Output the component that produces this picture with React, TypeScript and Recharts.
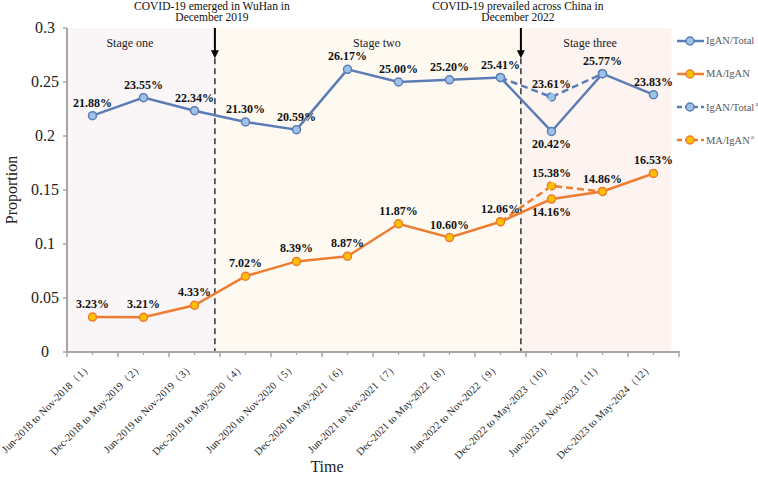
import React from "react";
import {
  LineChart, Line, XAxis, YAxis, ReferenceArea, ReferenceLine,
} from "recharts";

const periods = [
  "Jun-2018 to Nov-2018（1）",
  "Dec-2018 to May-2019（2）",
  "Jun-2019 to Nov-2019（3）",
  "Dec-2019 to May-2020（4）",
  "Jun-2020 to Nov-2020（5）",
  "Dec-2020 to May-2021（6）",
  "Jun-2021 to Nov-2021（7）",
  "Dec-2021 to May-2022（8）",
  "Jun-2022 to Nov-2022（9）",
  "Dec-2022 to May-2023（10）",
  "Jun-2023 to Nov-2023（11）",
  "Dec-2023 to May-2024（12）",
];
// percentages
const iganTotal = [21.88, 23.55, 22.34, 21.3, 20.59, 26.17, 25.0, 25.2, 25.41, 20.42, 25.77, 23.83];
const maIgan = [3.23, 3.21, 4.33, 7.02, 8.39, 8.87, 11.87, 10.6, 12.06, 14.16, 14.86, 16.53];
const iganTotalAdj = [null, null, null, null, null, null, null, null, 25.41, 23.61, 25.77, null];
const maIganAdj = [null, null, null, null, null, null, null, null, 12.06, 15.38, 14.86, null];
const yTicks = [0, 0.05, 0.1, 0.15, 0.2, 0.25, 0.3];

const BLUE = "#5b7db5";
const BLUE_FILL = "#9dc3e6";
const ORANGE = "#ed7d31";
const ORANGE_FILL = "#ffc000";
const AXIS = "#a6a6a6";
const FONT = '"Liberation Serif", "Times New Roman", serif';

const toProp = (v: number | null) => (v == null ? null : v / 100);

const data = periods.map((p, i) => ({
  x: i + 1,
  period: p,
  igan: toProp(iganTotal[i]),
  ma: toProp(maIgan[i]),
  iganA: toProp(iganTotalAdj[i]),
  maA: toProp(maIganAdj[i]),
}));

const centerTicks = periods.map((_, i) => i + 1);
const edgeTicks = [...periods.map((_, i) => i + 0.5), periods.length + 0.5];
const allTicks = [...edgeTicks, ...centerTicks].sort((a, b) => a - b);

const makeLabel = (values: (number | null)[], below: number[], only?: number[]) =>
  (props: any) => {
    const index = props.index;
    const x = props.x ?? props.viewBox?.x;
    const y = props.y ?? props.viewBox?.y;
    const v = values[index];
    if (v == null || x == null || y == null) return null;
    if (only && !only.includes(index)) return null;
    const isBelow = below.includes(index);
    return (
      <text
        x={x}
        y={isBelow ? y + 17 : y - 9}
        textAnchor="middle"
        fontSize={12}
        fontWeight="bold"
        fontFamily={FONT}
        fill="#111"
      >
        {v.toFixed(2)}%
      </text>
    );
  };

const XTick = (props: any) => {
  const { x, y, payload } = props;
  const v = payload.value;
  if (!Number.isInteger(v)) {
    return <line x1={x} x2={x} y1={y - 1} y2={y + 5} stroke={AXIS} strokeWidth={1.5} />;
  }
  return (
    <g>
      <line x1={x} x2={x} y1={y - 1} y2={y + 3} stroke={AXIS} strokeWidth={1.2} />
      <text
        x={x}
        y={y + 15}
        textAnchor="end"
        fontSize={10.5}
        fontFamily={FONT}
        fill="#222"
        transform={`rotate(-45, ${x}, ${y + 15})`}
      >
        {periods[v - 1]}
      </text>
    </g>
  );
};

const YTick = (props: any) => {
  const { x, y, payload } = props;
  return (
    <g>
      <line x1={x + 8} x2={x + 12} y1={y} y2={y} stroke={AXIS} strokeWidth={1.5} />
      <text x={x - 10} y={y + 5} textAnchor="middle" fontSize={16} fontFamily={FONT} fill="#222">
        {String(payload.value)}
      </text>
    </g>
  );
};

const makeArrow = (line1: string, line2: string) => (props: any) => {
  const { x1, y1, y2 } = props;
  const tipY = Math.max(y1, y2);
  const topY = Math.min(y1, y2);
  return (
    <g>
      <line x1={x1} x2={x1} y1={topY} y2={tipY - 6} stroke="#000" strokeWidth={2} />
      <polygon points={`${x1 - 4},${tipY - 8} ${x1 + 4},${tipY - 8} ${x1},${tipY}`} fill="#000" />
      <text x={x1 - 3} y={topY - 18} textAnchor="middle" fontSize={11.5} fontFamily={FONT} fill="#111">
        {line1}
      </text>
      <text x={x1 - 3} y={topY - 7} textAnchor="middle" fontSize={11.5} fontFamily={FONT} fill="#111">
        {line2}
      </text>
    </g>
  );
};

const legendItems = [
  { name: "IgAN/Total", color: BLUE, fill: BLUE_FILL, dashed: false, sup: false },
  { name: "MA/IgAN", color: ORANGE, fill: ORANGE_FILL, dashed: false, sup: false },
  { name: "IgAN/Total", color: BLUE, fill: BLUE_FILL, dashed: true, sup: true },
  { name: "MA/IgAN", color: ORANGE, fill: ORANGE_FILL, dashed: true, sup: true },
];

export default function App() {
  const stageLabel = (text: string, dx: number) => ({
    value: text,
    position: "insideTop" as const,
    offset: 10,
    dx,
    fontSize: 12,
    fontFamily: FONT,
    fill: "#222",
  });

  return (
    <div style={{ position: "absolute", left: 0, top: 0, width: 758, height: 478, background: "#fff", fontFamily: FONT }}>
      <LineChart width={758} height={478} data={data} margin={{ top: 28, right: 79, bottom: 0, left: 17 }}>
        <ReferenceArea x1={0.5} x2={3.4} y1={0} y2={0.3} fill="#faf6f8" fillOpacity={1} stroke="none"
          label={stageLabel("Stage one", -11)} />
        <ReferenceArea x1={3.4} x2={9.4} y1={0} y2={0.3} fill="#fffaf1" fillOpacity={1} stroke="none"
          label={stageLabel("Stage two", 9)} />
        <ReferenceArea x1={9.4} x2={12.35} y1={0} y2={0.3} fill="#fdf3f0" fillOpacity={1} stroke="none"
          label={stageLabel("Stage three", -6)} />
        <XAxis
          dataKey="x"
          type="number"
          domain={[0.5, 12.5]}
          ticks={allTicks}
          interval={0}
          tick={<XTick />}
          tickLine={false}
          tickSize={0}
          tickMargin={0}
          height={126}
          axisLine={{ stroke: AXIS, strokeWidth: 2 }}
        />
        <YAxis
          domain={[0, 0.3]}
          ticks={yTicks}
          interval={0}
          tick={<YTick />}
          tickLine={false}
          tickSize={4}
          tickMargin={8}
          width={50}
          axisLine={{ stroke: AXIS, strokeWidth: 2 }}
        />
        <ReferenceLine segment={[{ x: 3.4, y: 0.272 }, { x: 3.4, y: 0 }]} stroke="#333" strokeWidth={1.5} strokeDasharray="6 4" />
        <ReferenceLine segment={[{ x: 9.4, y: 0.272 }, { x: 9.4, y: 0 }]} stroke="#333" strokeWidth={1.5} strokeDasharray="6 4" />
        <ReferenceLine segment={[{ x: 3.4, y: 0.3 }, { x: 3.4, y: 0.272 }]}
          shape={makeArrow("COVID-19 emerged in WuHan in", "December 2019")} />
        <ReferenceLine segment={[{ x: 9.4, y: 0.3 }, { x: 9.4, y: 0.272 }]}
          shape={makeArrow("COVID-19 prevailed across China in", "December 2022")} />
        <Line dataKey="iganA" type="linear" stroke={BLUE} strokeWidth={2.5} strokeDasharray="7 4"
          dot={{ r: 4, fill: BLUE_FILL, stroke: BLUE, strokeWidth: 1.5 }} isAnimationActive={false}
          connectNulls={false} label={makeLabel(iganTotalAdj, [], [9])} />
        <Line dataKey="maA" type="linear" stroke={ORANGE} strokeWidth={2.5} strokeDasharray="7 4"
          dot={{ r: 4, fill: ORANGE_FILL, stroke: ORANGE, strokeWidth: 1.5 }} isAnimationActive={false}
          connectNulls={false} label={makeLabel(maIganAdj, [], [9])} />
        <Line dataKey="igan" type="linear" stroke={BLUE} strokeWidth={2.5}
          dot={{ r: 4, fill: BLUE_FILL, stroke: BLUE, strokeWidth: 1.5 }} isAnimationActive={false}
          label={makeLabel(iganTotal, [9])} />
        <Line dataKey="ma" type="linear" stroke={ORANGE} strokeWidth={2.5}
          dot={{ r: 4, fill: ORANGE_FILL, stroke: ORANGE, strokeWidth: 1.5 }} isAnimationActive={false}
          label={makeLabel(maIgan, [9])} />
      </LineChart>

      <div style={{ position: "absolute", left: 2, top: 190, transform: "translate(0, -50%) rotate(-90deg)", transformOrigin: "center", fontSize: 16, color: "#222", whiteSpace: "nowrap", width: 20, textAlign: "center" }}>
        <span style={{ display: "inline-block", transform: "translateX(-50%)", marginLeft: 10 }}>Proportion</span>
      </div>
      <div style={{ position: "absolute", left: 327, top: 458, transform: "translateX(-50%)", fontSize: 16, color: "#222" }}>
        Time
      </div>

      <div style={{ position: "absolute", left: 677, top: 24 }}>
        {legendItems.map((it, i) => (
          <div key={i} style={{ display: "flex", alignItems: "center", height: 33, fontSize: 10.5, color: "#595959", whiteSpace: "nowrap" }}>
            <svg width={27} height={12} style={{ marginRight: 2 }}>
              <line x1={0} x2={27} y1={6} y2={6} stroke={it.color} strokeWidth={2.5} strokeDasharray={it.dashed ? "5 3" : undefined} />
              <circle cx={13} cy={6} r={4} fill={it.fill} stroke={it.color} strokeWidth={1.5} />
            </svg>
            <span>
              {it.name}
              {it.sup && <sup style={{ fontSize: 7, marginLeft: 1 }}>a</sup>}
            </span>
          </div>
        ))}
      </div>
    </div>
  );
}
